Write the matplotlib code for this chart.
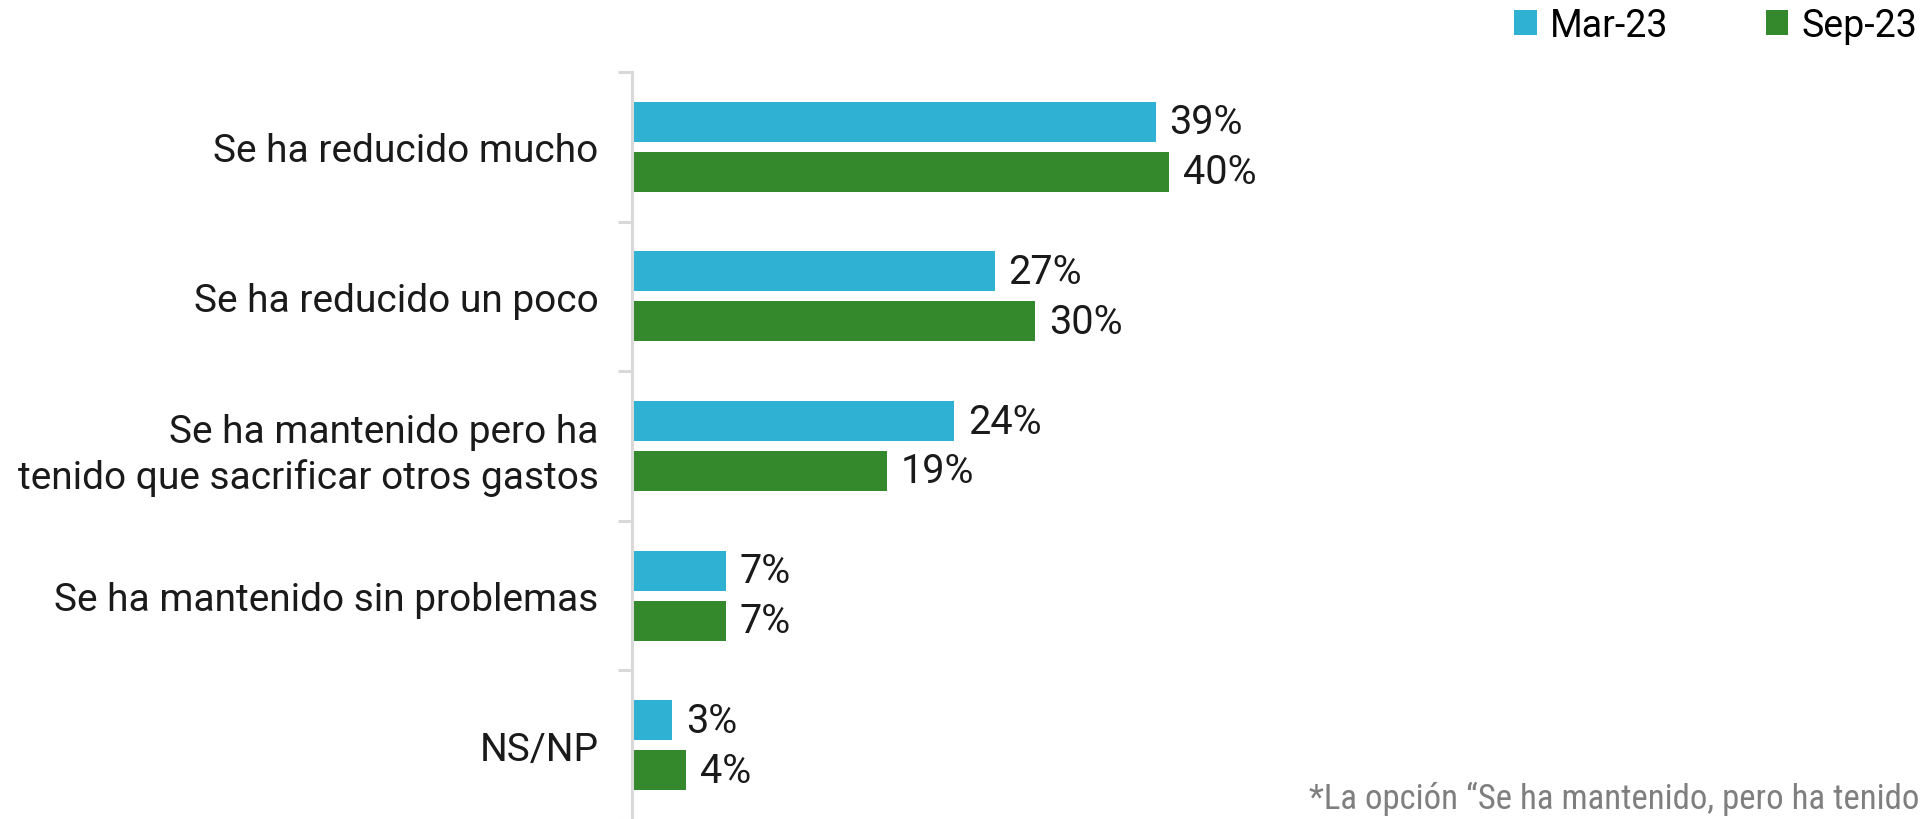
import matplotlib.pyplot as plt
import numpy as np

categories = [
    "Se ha reducido mucho",
    "Se ha reducido un poco",
    "Se ha mantenido pero ha\ntenido que sacrificar otros gastos",
    "Se ha mantenido sin problemas",
    "NS/NP",
]
series_names = ["Mar-23", "Sep-23"]
mar23 = [39, 27, 24, 7, 3]
sep23 = [40, 30, 19, 7, 4]
footnote = "*La opción “Se ha mantenido, pero ha tenido"

c_mar = "#2FB1D4"
c_sep = "#34892C"
axis_grey = "#D9D9D9"

plt.rcParams["font.family"] = ["Roboto", "DejaVu Sans"]

fig = plt.figure(figsize=(19.21, 8.2), dpi=100)
ax = fig.add_axes([632 / 1921, -1 / 820, 1 - 632 / 1921, 748 / 820])

y = np.arange(len(categories))
h = 0.267
off = 0.167
b1 = ax.barh(y - off, mar23, height=h, color=c_mar, label=series_names[0])
b2 = ax.barh(y + off, sep23, height=h, color=c_sep, label=series_names[1])

# value labels at the bar ends
for bars, vals in ((b1, mar23), (b2, sep23)):
    for rect, v in zip(bars, vals):
        ax.annotate(f"{v}%", (rect.get_width(), rect.get_y() + rect.get_height() / 2),
                    xytext=(10, 0), textcoords="offset points",
                    ha="left", va="center", fontsize=28.5, color="#1a1a1a")

ax.set_xlim(0, 96)
ax.set_ylim(len(categories) - 0.5, -0.5)

ax.set_yticks(y)
ax.set_yticklabels(categories, fontsize=28, color="#1a1a1a", linespacing=1.3)
ax.set_yticks(np.arange(len(categories) + 1) - 0.5, minor=True)
ax.tick_params(axis="y", which="major", length=0, pad=24)
ax.tick_params(axis="y", which="minor", length=10, width=2.2, color=axis_grey)
ax.set_xticks([])

for s in ("top", "right", "bottom"):
    ax.spines[s].set_visible(False)
ax.spines["left"].set_color(axis_grey)
ax.spines["left"].set_linewidth(2.2)

fig.legend(handles=[b1, b2], loc="upper right", bbox_to_anchor=(1.0, 0.995),
           ncol=2, frameon=False, fontsize=27, handlelength=0.6, handleheight=0.65,
           handletextpad=0.35, columnspacing=2.6, borderaxespad=0.0, borderpad=0.1)

fig.text(1309 / 1921, 1 - 799 / 820, footnote, ha="left", va="center",
         fontsize=25, color="#7f7f7f",
         family=["Roboto Condensed", "Liberation Sans Narrow", "Roboto", "DejaVu Sans"])

fig.savefig("out.png", dpi=100)
